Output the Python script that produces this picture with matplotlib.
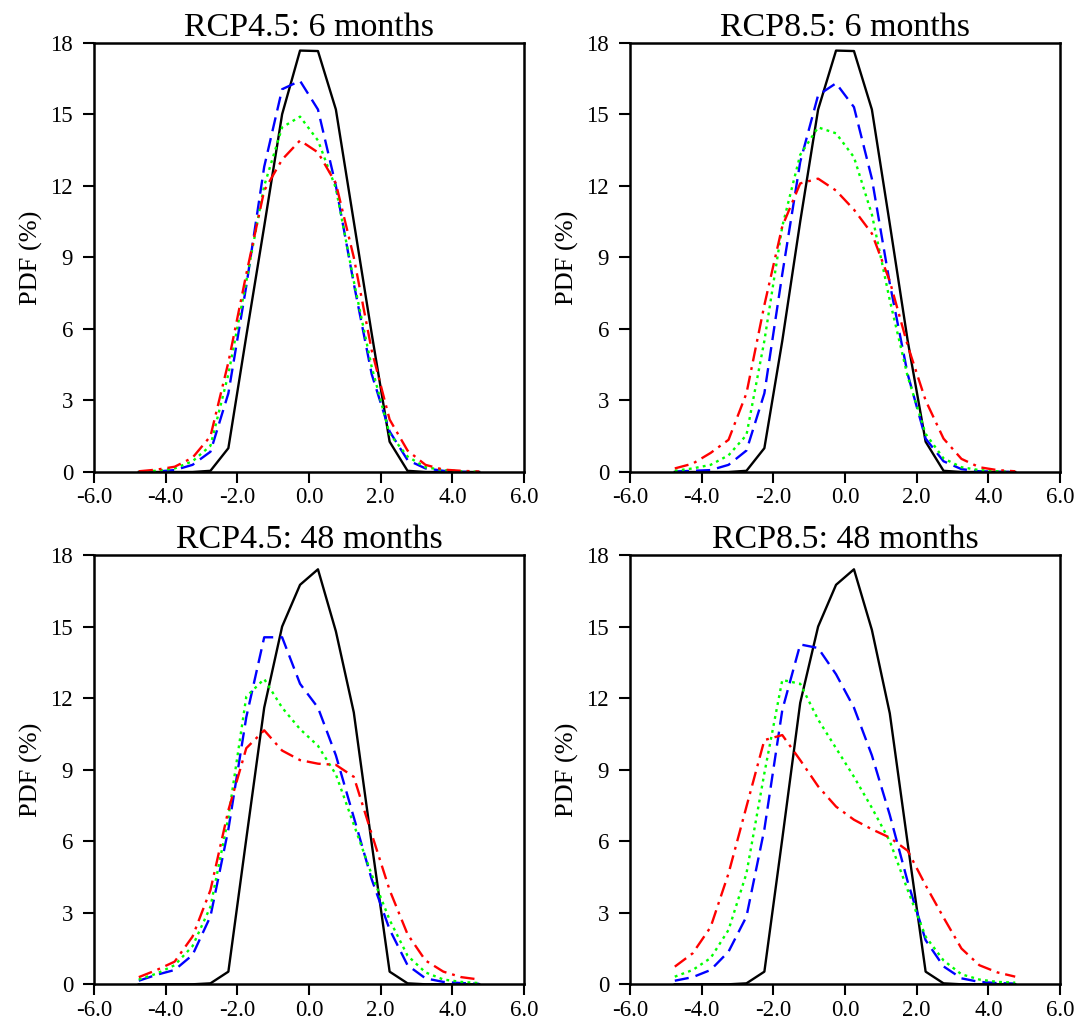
import numpy as np
import matplotlib
matplotlib.use("Agg")
import matplotlib.pyplot as plt

plt.rcParams['font.family'] = ['Liberation Serif', 'DejaVu Serif']

# bin centres
x = [-4.75, -4.25, -3.75, -3.25, -2.75, -2.25, -1.75, -1.25, -0.75, -0.25,
     0.25, 0.75, 1.25, 1.75, 2.25, 2.75, 3.25, 3.75, 4.25, 4.75]

titles = ["RCP4.5: 6 months", "RCP8.5: 6 months",
          "RCP4.5: 48 months", "RCP8.5: 48 months"]

# RCP4.5 6 months
p1_black = [0, 0, 0, 0, 0.05, 1.0, 5.7, 10.3, 15.0, 17.67,
            17.65, 15.2, 10.5, 5.8, 1.27, 0.05, 0, 0, 0, 0]
p1_blue = [0.01, 0.02, 0.08, 0.3, 0.85, 3.3, 7.8, 12.8, 16.05, 16.4,
           15.2, 12.0, 7.9, 4.1, 1.7, 0.5, 0.15, 0.05, 0.01, 0]
p1_green = [0.02, 0.05, 0.15, 0.45, 1.1, 4.1, 8.0, 12.0, 14.45, 14.9,
            13.9, 11.9, 8.0, 4.4, 1.6, 0.65, 0.2, 0.08, 0.03, 0.01]
p1_red = [0.03, 0.1, 0.22, 0.6, 1.5, 4.6, 8.3, 11.8, 13.1, 13.9,
          13.4, 12.1, 9.0, 5.1, 2.2, 0.9, 0.3, 0.1, 0.05, 0.02]

# RCP8.5 6 months
p2_black = [0, 0, 0, 0, 0.05, 1.0, 5.5, 10.5, 15.2, 17.67,
            17.65, 15.2, 10.4, 5.5, 1.27, 0.05, 0, 0, 0, 0]
p2_blue = [0.02, 0.05, 0.08, 0.3, 0.9, 3.3, 8.3, 13.0, 15.8, 16.3,
           15.3, 12.3, 7.9, 4.1, 1.4, 0.45, 0.12, 0.03, 0.01, 0]
p2_green = [0.05, 0.15, 0.3, 0.7, 1.55, 5.5, 10.3, 13.3, 14.45, 14.2,
            13.2, 10.8, 7.2, 4.0, 1.6, 0.57, 0.2, 0.08, 0.03, 0.01]
p2_red = [0.15, 0.35, 0.8, 1.35, 3.3, 7.0, 10.3, 12.1, 12.3, 11.8,
          11.0, 10.0, 8.0, 5.3, 3.0, 1.4, 0.55, 0.2, 0.08, 0.03]

# RCP4.5 48 months
p3_black = [0, 0, 0, 0, 0.04, 0.53, 6.1, 11.6, 15.0, 16.75,
            17.4, 14.8, 11.4, 5.9, 0.53, 0.04, 0, 0, 0, 0]
p3_blue = [0.15, 0.4, 0.6, 1.23, 2.85, 6.5, 11.2, 14.55, 14.55, 12.6,
           11.6, 9.6, 7.0, 4.4, 2.3, 0.8, 0.25, 0.1, 0.05, 0.02]
p3_green = [0.2, 0.45, 0.8, 1.6, 3.25, 7.0, 12.06, 12.8, 11.6, 10.7,
            10.0, 8.8, 6.7, 4.6, 2.7, 1.2, 0.5, 0.2, 0.1, 0.05]
p3_red = [0.3, 0.6, 0.95, 2.0, 3.95, 7.3, 9.9, 10.65, 9.8, 9.4,
          9.25, 9.2, 8.7, 6.3, 3.95, 2.1, 1.0, 0.53, 0.3, 0.2]

# RCP8.5 48 months
p4_black = [0, 0, 0, 0, 0.04, 0.53, 6.1, 11.8, 15.0, 16.75,
            17.4, 14.86, 11.36, 5.9, 0.53, 0.04, 0, 0, 0, 0]
p4_blue = [0.15, 0.3, 0.6, 1.37, 2.84, 6.5, 11.5, 14.25, 14.1, 13.0,
           11.6, 9.6, 7.1, 4.3, 1.85, 0.75, 0.25, 0.1, 0.05, 0.03]
p4_green = [0.32, 0.6, 1.1, 2.28, 4.65, 8.85, 12.76, 12.6, 11.1, 9.9,
            8.7, 7.4, 6.0, 3.95, 2.0, 1.0, 0.42, 0.2, 0.1, 0.07]
p4_red = [0.74, 1.3, 2.4, 4.65, 7.45, 10.24, 10.45, 9.4, 8.3, 7.45,
          6.9, 6.5, 6.15, 5.6, 4.15, 2.8, 1.5, 0.8, 0.5, 0.32]

panels = [
    (p1_black, p1_blue, p1_green, p1_red),
    (p2_black, p2_blue, p2_green, p2_red),
    (p3_black, p3_blue, p3_green, p3_red),
    (p4_black, p4_blue, p4_green, p4_red),
]

xticks = [-6, -4, -2, 0, 2, 4, 6]
xticklabels = ["-6.0", "-4.0", "-2.0", "0.0", "2.0", "4.0", "6.0"]
yticks = [0, 3, 6, 9, 12, 15, 18]

fig = plt.figure(figsize=(10.78, 10.29), dpi=100)

W, H = 1078.0, 1029.0
lefts = [94, 630, 94, 630]
bottoms = [472, 472, 984.3, 984.3]
aw, ah = 430.0, 429.3

for i, (blk, blu, grn, red) in enumerate(panels):
    ax = fig.add_axes([lefts[i] / W, 1 - bottoms[i] / H, aw / W, ah / H])
    ax.plot(x, blk, color='black', lw=1.7, ls='-')
    ax.plot(x, blu, color='#0000ff', lw=1.7, ls=(0, (6, 3)))
    ax.plot(x, grn, color='#00ff00', lw=1.7, ls=(0, (1.2, 1.8)))
    ax.plot(x, red, color='#ff0000', lw=1.7, ls=(0, (6, 2.5, 1.2, 2.5)))
    ax.set_xlim(-6, 6)
    ax.set_ylim(0, 18)
    ax.set_xticks(xticks)
    ax.set_xticklabels(xticklabels)
    ax.set_yticks(yticks)
    ax.tick_params(direction='out', length=8, width=1.5, labelsize=16.5)
    ax.tick_params(axis='x', pad=3)
    ax.tick_params(axis='y', pad=7)
    for s in ax.spines.values():
        s.set_linewidth(1.8)
    ax.set_ylabel("PDF (%)", fontsize=19, labelpad=5)
    ax.set_title(titles[i], fontsize=24.5, pad=4)

fig.savefig("out.png", dpi=100)
